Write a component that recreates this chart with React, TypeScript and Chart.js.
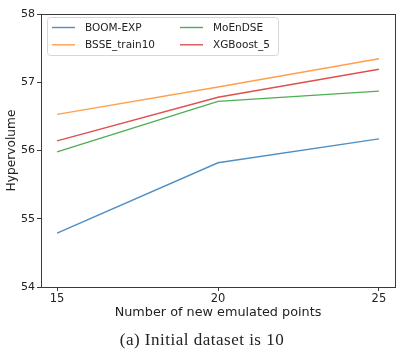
import React, { useEffect, useRef } from "react";
import { Chart, registerables } from "chart.js";

Chart.register(...registerables);

const xValues = [15, 20, 25];
const seriesNames = ["BOOM-EXP", "BSSE_train10", "MoEnDSE", "XGBoost_5"];
const boomExp = [54.79, 55.82, 56.17];
const bsseTrain10 = [56.53, 56.93, 57.345];
const moEnDSE = [55.98, 56.72, 56.87];
const xgBoost5 = [56.14, 56.78, 57.19];
const seriesColors = ["#4f8fc6", "#ffa04a", "#4caf50", "#e0504f"];
const yTicks = [54, 55, 56, 57, 58];
const xTicks = [15, 20, 25];
const xTitle = "Number of new emulated points";
const yTitle = "Hypervolume";
const caption = "(a) Initial dataset is 10";

const FONT = "'DejaVu Sans', sans-serif";

const frameAndLegend = {
  id: "frameAndLegend",
  afterDraw(chart: any) {
    const ctx = chart.ctx;
    const a = chart.chartArea;
    ctx.save();
    ctx.strokeStyle = "#3a3a3a";
    ctx.lineWidth = 1;
    ctx.strokeRect(Math.round(a.left) + 0.5, Math.round(a.top) + 0.5, Math.round(a.right - a.left), Math.round(a.bottom - a.top));

    // legend box
    const bx = a.left + 6.5, by = a.top + 3.5, bw = 231, bh = 38;
    const r = 3;
    ctx.beginPath();
    ctx.moveTo(bx + r, by);
    ctx.lineTo(bx + bw - r, by);
    ctx.quadraticCurveTo(bx + bw, by, bx + bw, by + r);
    ctx.lineTo(bx + bw, by + bh - r);
    ctx.quadraticCurveTo(bx + bw, by + bh, bx + bw - r, by + bh);
    ctx.lineTo(bx + r, by + bh);
    ctx.quadraticCurveTo(bx, by + bh, bx, by + bh - r);
    ctx.lineTo(bx, by + r);
    ctx.quadraticCurveTo(bx, by, bx + r, by);
    ctx.closePath();
    ctx.fillStyle = "rgba(255,255,255,0.85)";
    ctx.fill();
    ctx.strokeStyle = "#d6d6d6";
    ctx.stroke();

    const cols = [bx + 4.5, bx + 132.5];
    const rows = [by + 10, by + 27.3];
    ctx.font = "10.5px " + FONT;
    ctx.textBaseline = "middle";
    ctx.textAlign = "left";
    chart.data.datasets.forEach((ds: any, i: number) => {
      const cx = cols[Math.floor(i / 2)];
      const cy = rows[i % 2];
      ctx.strokeStyle = ds.borderColor;
      ctx.lineWidth = 1.4;
      ctx.beginPath();
      ctx.moveTo(cx, cy);
      ctx.lineTo(cx + 23, cy);
      ctx.stroke();
      ctx.fillStyle = "#222";
      ctx.fillText(ds.label, cx + 33, cy + 0.5);
    });
    ctx.restore();
  },
};

export default function App() {
  const ref = useRef<HTMLCanvasElement | null>(null);
  useEffect(() => {
    if (!ref.current) return;
    const all = [boomExp, bsseTrain10, moEnDSE, xgBoost5];
    const chart = new Chart(ref.current, {
      type: "line",
      data: {
        datasets: all.map((vals, i) => ({
          label: seriesNames[i],
          data: vals.map((v, j) => ({ x: xValues[j], y: v })),
          borderColor: seriesColors[i],
          backgroundColor: seriesColors[i],
          borderWidth: 1.4,
          pointRadius: 0,
          tension: 0,
          fill: false,
        })),
      },
      options: {
        animation: false,
        responsive: false,
        maintainAspectRatio: false,
        layout: { padding: { left: 1, top: 14, right: 9, bottom: 28 } },
        plugins: { legend: { display: false }, tooltip: { enabled: false } },
        scales: {
          x: {
            type: "linear",
            min: 14.5,
            max: 25.5,
            afterBuildTicks: (s: any) => {
              s.ticks = xTicks.map((v) => ({ value: v }));
            },
            afterFit: (s: any) => {
              s.height = 37;
            },
            grid: { drawOnChartArea: false, drawTicks: true, tickLength: 4, color: "#3a3a3a" },
            border: { display: true, color: "#3a3a3a" },
            ticks: { padding: 1, color: "#222", font: { family: FONT, size: 11.5 }, maxRotation: 0 },
            title: { display: true, text: xTitle, color: "#222", font: { family: FONT, size: 12.8 } },
          },
          y: {
            min: 54,
            max: 58,
            afterBuildTicks: (s: any) => {
              s.ticks = yTicks.map((v) => ({ value: v }));
            },
            afterFit: (s: any) => {
              s.width = 40;
            },
            grid: { drawOnChartArea: false, drawTicks: true, tickLength: 4, color: "#3a3a3a" },
            border: { display: true, color: "#3a3a3a" },
            ticks: { padding: 2, color: "#222", font: { family: FONT, size: 11 } },
            title: { display: true, text: yTitle, color: "#222", font: { family: FONT, size: 12.2 } },
          },
        },
      },
      plugins: [frameAndLegend],
    } as any);
    return () => chart.destroy();
  }, []);
  return (
    <div style={{ position: "absolute", left: 0, top: 0, width: 404, height: 352, background: "#fff" }}>
      <canvas ref={ref} width={404} height={352} style={{ position: "absolute", left: 0, top: 0, width: 404, height: 352 }} />
      <div
        style={{
          position: "absolute",
          left: 0,
          width: 404,
          top: 330,
          textAlign: "center",
          fontFamily: "'Liberation Serif', 'DejaVu Serif', serif",
          fontSize: 17,
          letterSpacing: "0.5px",
          lineHeight: "20px",
          color: "#222",
          whiteSpace: "nowrap",
        }}
      >
        {caption}
      </div>
    </div>
  );
}
